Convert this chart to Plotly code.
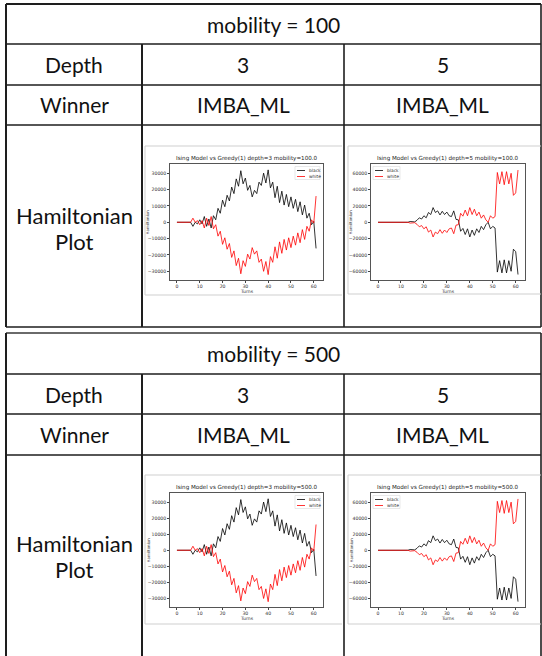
import plotly.graph_objects as go

# ---------------- data ----------------
turns = list(range(62))

black_d3 = [0, 0, 0, 0, 0, 0, 0, -2500, 0, -1000,
            1500, -1000, 3500, -2500, 2000, -3500, 4000, 1500, 8500, 5500,
            13500, 9500, 16500, 13000, 21500, 17500, 26500, 22000, 31500, 23500,
            27000, 19500, 22500, 15500, 19500, 17500, 24500, 22500, 30000, 24000,
            32000, 21000, 24500, 15000, 22000, 12000, 19000, 10500, 17000, 9500,
            15500, 8500, 14000, 6500, 12500, 4500, 10500, 2500, 5500, -1500,
            500, -16000]
white_d3 = [0, 0, 0, 0, 0, 0, 0, 2500, 0, 1000,
            -1500, 1000, -3500, 2500, -2000, 3500, -4000, -1500, -8500, -5500,
            -13500, -9500, -16500, -13000, -21500, -17500, -26500, -22000, -31500, -23500,
            -27000, -19500, -22500, -15500, -19500, -17500, -24500, -22500, -30000, -24000,
            -32000, -21000, -24500, -15000, -22000, -12000, -19000, -10500, -17000, -9500,
            -15500, -8500, -14000, -6500, -12500, -4500, -10500, -2500, -5500, 1500,
            -500, 16000]

black_d5 = [0, 0, 0, 0, 0, 0, 0, 0, 0, 0,
            0, 0, 0, 0, 1000, 1000, 500, 2500, 5500, 4000,
            8000, 5500, 12000, 9500, 18000, 12000, 14000, 9000, 13500, 9500,
            12500, 8000, 7000, 14000, 3500, 3000, -11000, -7500, -15000, -8000,
            -18000, -9500, -16000, -8000, -12500, -5000, -9000, -3000, 0, -8000,
            -5000, -7000, -61000, -47000, -62000, -46000, -62000, -47000, -60000, -33000,
            -36000, -64000]
white_d5 = [0, 0, 0, 0, 0, 0, 0, 0, 0, 0,
            0, 0, 0, 0, -1000, -1000, -500, -2500, -5500, -4000,
            -8000, -5500, -12000, -9500, -18000, -12000, -14000, -9000, -13500, -9500,
            -12500, -8000, -7000, -14000, -3500, -3000, 11000, 7500, 15000, 8000,
            18000, 9500, 16000, 8000, 12500, 5000, 9000, 3000, 0, 8000,
            5000, 7000, 61000, 47000, 62000, 46000, 62000, 47000, 60000, 33000,
            36000, 64000]

mobilities = ["100", "500"]
mobility_titles = ["100.0", "500.0"]
depths = ["3", "5"]
winners = ["IMBA_ML", "IMBA_ML"]
series_names = ["black", "white"]

xtick_vals = [0, 10, 20, 30, 40, 50, 60]
xtick_labels = ["0", "10", "20", "30", "40", "50", "60"]
ytick_vals_d3 = [-30000, -20000, -10000, 0, 10000, 20000, 30000]
ytick_labels_d3 = ["\u221230000", "\u221220000", "\u221210000", "0", "10000", "20000", "30000"]
ytick_vals_d5 = [-60000, -40000, -20000, 0, 20000, 40000, 60000]
ytick_labels_d5 = ["\u221260000", "\u221240000", "\u221220000", "0", "20000", "40000", "60000"]

assert len(black_d3) == len(white_d3) == len(black_d5) == len(white_d5) == len(turns)

# ---------------- layout helpers ----------------
W, H = 542, 656


def px(x):
    return x / W


def py(y):
    return 1 - y / H


shapes = []
annotations = []
LINE_C = "#1e1e1e"


def seg(x0, y0, x1, y1, color=LINE_C, width=1.6):
    shapes.append(dict(type="line", xref="paper", yref="paper",
                       x0=px(x0), y0=py(y0), x1=px(x1), y1=py(y1),
                       line=dict(color=color, width=width), layer="above"))


def text(x, y, s, size=21, family="Lato", color="#111", xanchor="center", angle=0):
    annotations.append(dict(xref="paper", yref="paper", x=px(x), y=py(y), text=s,
                            showarrow=False, xanchor=xanchor, yanchor="middle",
                            textangle=angle,
                            font=dict(size=size, family=family, color=color)))


X_L, X_C1, X_C2, X_R = 6, 142, 344, 541
COL_CENTERS = [(X_C1 + X_C2) / 2, (X_C2 + X_R) / 2]

# table blocks: top, row lines, bottom
blocks = [
    dict(top=4, r1=44, r2=85, r3=125, bottom=327, top_color=LINE_C),
    dict(top=333, r1=374, r2=414, r3=455, bottom=660, top_color="#6a6a6a"),
]

fig = go.Figure()
layout_axes = {}

for bi, b in enumerate(blocks):
    seg(X_L, b["top"], X_R, b["top"], color=b["top_color"], width=2)
    for r in ("r1", "r2", "r3"):
        seg(X_L, b[r], X_R, b[r])
    if b["bottom"] < H:
        seg(X_L, b["bottom"], X_R, b["bottom"])
    seg(X_L, b["top"], X_L, b["bottom"], width=2)
    seg(X_R, b["top"], X_R, b["bottom"], width=1.6)
    seg(X_C1, b["r1"], X_C1, b["bottom"], width=2)
    seg(X_C2, b["r1"], X_C2, b["bottom"], width=1.6)

    text((X_L + X_R) / 2, (b["top"] + b["r1"]) / 2, "mobility = " + mobilities[bi])
    text((X_L + X_C1) / 2, (b["r1"] + b["r2"]) / 2, "Depth")
    text((X_L + X_C1) / 2, (b["r2"] + b["r3"]) / 2, "Winner")
    hp_mid = 228 if bi == 0 else 556
    text((X_L + X_C1) / 2, hp_mid - 13, "Hamiltonian", size=22)
    text((X_L + X_C1) / 2, hp_mid + 13, "Plot", size=22)
    for ci in range(2):
        text(COL_CENTERS[ci], (b["r1"] + b["r2"]) / 2, depths[ci])
        text(COL_CENTERS[ci], (b["r2"] + b["r3"]) / 2, winners[ci])

# panels: (block, depth index, axes box px, image frame px)
panels = [
    (0, 0, (170, 323, 164, 280), (145, 342, 146, 295)),
    (0, 1, (371, 525, 164, 280), (348, 541, 146, 294)),
    (1, 0, (170, 323, 493, 607), (145, 342, 475, 624)),
    (1, 1, (371, 525, 493, 607), (348, 541, 475, 624)),
]

series = {0: (black_d3, white_d3), 1: (black_d5, white_d5)}
yticks = {0: (ytick_vals_d3, ytick_labels_d3, [-35300, 35600]),
          1: (ytick_vals_d5, ytick_labels_d5, [-70700, 71400])}

SMALL = "DejaVu Sans"
FRAME_C = "#cfcfcf"
TICK_SZ = 4.6

for k, (bi, di, (ax0, ax1, ay0, ay1), (fx0, fx1, fy0, fy1)) in enumerate(panels, start=1):
    # image frame
    seg(fx0, fy0, fx1, fy0, color=FRAME_C, width=1)
    seg(fx0, fy1, fx1, fy1, color=FRAME_C, width=1)
    seg(fx0, fy0, fx0, fy1, color=FRAME_C, width=1)

    blk, wht = series[di]
    xa = "x" if k == 1 else f"x{k}"
    ya = "y" if k == 1 else f"y{k}"
    fig.add_trace(go.Scatter(x=turns, y=blk, mode="lines", name=series_names[0],
                             line=dict(color="#000000", width=0.8),
                             xaxis=xa, yaxis=ya, showlegend=False, hoverinfo="skip"))
    fig.add_trace(go.Scatter(x=turns, y=wht, mode="lines", name=series_names[1],
                             line=dict(color="#ff0000", width=0.8),
                             xaxis=xa, yaxis=ya, showlegend=False, hoverinfo="skip"))
    tv, tt, yr = yticks[di]
    axcommon = dict(showline=True, mirror=True, linecolor="#555", linewidth=0.7,
                    ticks="outside", ticklen=2, tickwidth=0.5, tickcolor="#444",
                    showgrid=False, zeroline=False,
                    tickfont=dict(size=TICK_SZ, family=SMALL, color="#333"))
    layout_axes["xaxis" if k == 1 else f"xaxis{k}"] = dict(
        domain=[px(ax0), px(ax1)], anchor=ya, range=[-3.05, 64.05],
        tickvals=xtick_vals, ticktext=xtick_labels, **axcommon)
    layout_axes["yaxis" if k == 1 else f"yaxis{k}"] = dict(
        domain=[py(ay1), py(ay0)], anchor=xa, range=yr,
        tickvals=tv, ticktext=tt, **axcommon)

    cx = (ax0 + ax1) / 2
    text(cx, ay0 - 6, f"Ising Model vs Greedy(1) depth={depths[di]} mobility={mobility_titles[bi]}",
         size=5.6, family=SMALL, color="#222")
    text(cx, ay1 + 11, "Turns", size=TICK_SZ, family=SMALL, color="#333")
    text(fx0 + 2.5, (ay0 + ay1) / 2, "Hamiltonian", size=4.0, family=SMALL, color="#333", angle=-90)

    # legend box
    if di == 0:
        lx0, lx1 = ax1 - 28, ax1 - 3
    else:
        lx0, lx1 = ax0 + 2, ax0 + 29
    ly0, ly1 = ay0 + 2.5, ay0 + 15.5
    shapes.append(dict(type="rect", xref="paper", yref="paper",
                       x0=px(lx0), x1=px(lx1), y0=py(ly1), y1=py(ly0),
                       line=dict(color="#d8d8d8", width=0.6), fillcolor="white", layer="above"))
    for si, (nm, col) in enumerate(zip(series_names, ["#000000", "#ff0000"])):
        yy = ly0 + 4 + si * 6
        seg(lx0 + 2, yy, lx0 + 10, yy, color=col, width=0.8)
        text(lx0 + 12, yy, nm, size=4.4, family=SMALL, color="#333", xanchor="left")

fig.update_layout(
    width=W, height=H, autosize=False,
    margin=dict(l=0, r=0, t=0, b=0),
    paper_bgcolor="white", plot_bgcolor="white",
    shapes=shapes, annotations=annotations, showlegend=False,
    **layout_axes,
)

fig.write_html("out.html",
               config={"displayModeBar": False},
               post_script="document.body.style.margin='0';document.body.style.padding='0';"
                           "document.documentElement.style.overflow='hidden';")
